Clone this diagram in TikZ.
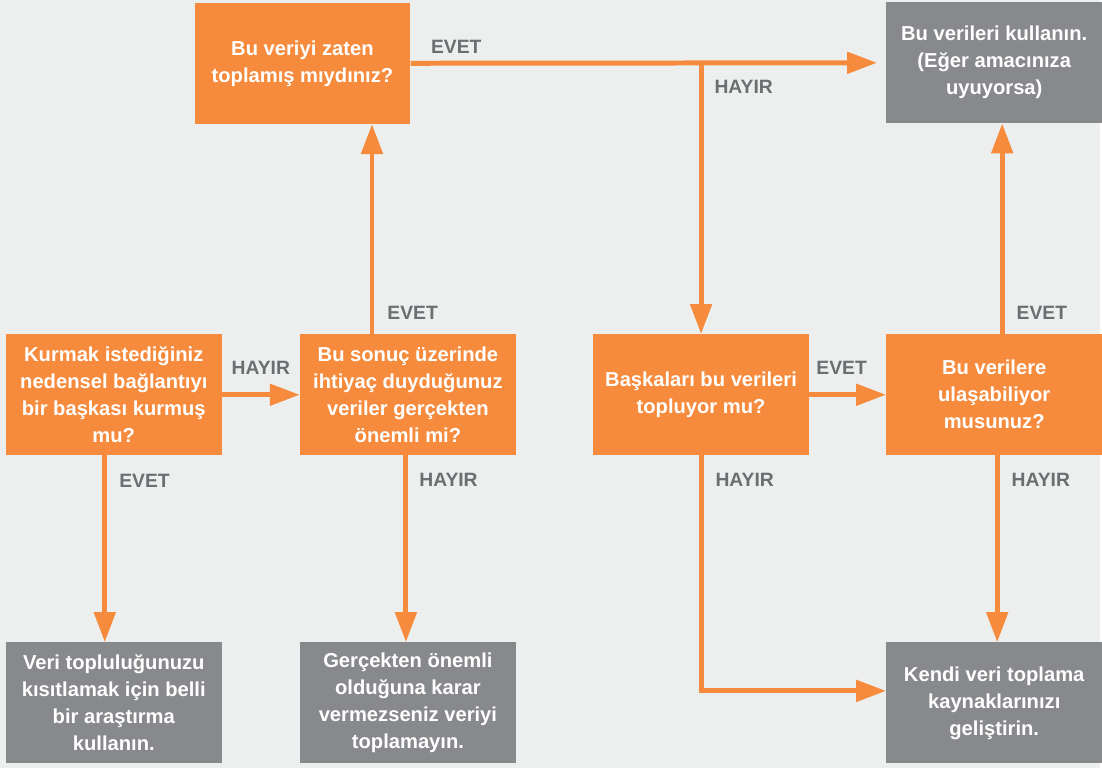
\documentclass[tikz,border=0pt]{standalone}
\usepackage{fontspec}
\setmainfont{Liberation Sans}
\usepackage{xcolor}
\usetikzlibrary{arrows.meta,positioning}
\definecolor{turuncu}{HTML}{F68B3D}
\definecolor{kutugri}{HTML}{88898D}
\definecolor{zemin}{HTML}{EDEFEE}
\definecolor{yazigri}{HTML}{6D6E72}

\begin{document}
\begin{tikzpicture}[
  node distance=3.74cm and 1.54cm,
  soru/.style={rectangle, fill=turuncu, text=white, minimum width=4.32cm,
               minimum height=2.42cm, inner sep=0pt, align=center,
               font=\bfseries\fontsize{11.5}{15.4}\selectfont},
  sonuc/.style={soru, fill=kutugri},
  etiket/.style={text=yazigri, inner sep=0pt, font=\bfseries\fontsize{11}{13}\selectfont},
  ok/.style={-{Triangle[length=0.6cm, width=0.42cm]}, line width=0.1cm, turuncu}
]
\fill[zemin] (0,0) rectangle (22.04,-15.38);
% sorular
\node[soru] (kurmak) at (2.28,-7.91) {Kurmak istediğiniz\\nedensel bağlantıyı\\bir başkası kurmuş\\mu?};
\node[soru, right=1.56cm of kurmak] (onemli) {Bu sonuç üzerinde\\ihtiyaç duyduğunuz\\veriler gerçekten\\önemli mi?};
\node[soru, right=of onemli] (baskalari) {Başkaları bu verileri\\topluyor mu?};
\node[soru, right=of baskalari] (ulasabilir) {Bu verilere\\ulaşabiliyor\\musunuz?};
\node[soru] (toplamis) at (6.06,-1.27) {Bu veriyi zaten\\toplamış mıydınız?};
% sonuclar
\node[sonuc, above=4.22cm of ulasabilir] (kullan) {Bu verileri kullanın.\\(Eğer amacınıza\\uyuyorsa)};
\node[sonuc, below=of kurmak] (arastirma) {Veri topluluğunuzu\\kısıtlamak için belli\\bir araştırma\\kullanın.};
\node[sonuc, below=of onemli] (toplamayin) {Gerçekten önemli\\olduğuna karar\\vermezseniz veriyi\\toplamayın.};
\node[sonuc, below=of ulasabilir] (gelistir) {Kendi veri toplama\\kaynaklarınızı\\geliştirin.};
% oklar
\draw[ok] (kurmak) -- node[etiket, midway, above=0.36cm] {HAYIR} (onemli);
\draw[ok] ([xshift=-0.18cm]kurmak.south) -- node[etiket, at start, below right=0.32cm and 0.24cm] {EVET}
  ([xshift=-0.18cm]kurmak.south |- arastirma.north);
\draw[ok] ([xshift=-0.72cm]onemli.north) -- node[etiket, at start, above right=0.24cm and 0.26cm] {EVET}
  ([xshift=-0.72cm]onemli.north |- toplamis.south);
\draw[ok] ([xshift=-0.04cm]onemli.south) -- node[etiket, at start, below right=0.3cm and 0.22cm] {HAYIR}
  ([xshift=-0.04cm]onemli.south |- toplamayin.north);
\draw[ok, shorten >=0.18cm] (toplamis) -- node[etiket, at start, above right=0.14cm and 0.36cm] {EVET} (kullan);
\coordinate (ayrim) at (toplamis.east -| baskalari.north);
\draw[ok] (ayrim) -- node[etiket, at start, below right=0.28cm and 0.22cm] {HAYIR} (baskalari.north);
\draw[ok] (baskalari) -- node[etiket, midway, above=0.36cm, xshift=-0.12cm] {EVET} (ulasabilir);
\draw[ok] (baskalari.south) |- node[etiket, at start, below right=0.3cm and 0.24cm] {HAYIR}
  ([yshift=0.24cm]gelistir.west);
\draw[ok] ([xshift=0.16cm]ulasabilir.north) -- node[etiket, at start, above right=0.24cm and 0.24cm] {EVET}
  ([xshift=0.16cm]ulasabilir.north |- kullan.south);
\draw[ok] ([xshift=0.06cm]ulasabilir.south) -- node[etiket, at start, below right=0.3cm and 0.24cm] {HAYIR}
  ([xshift=0.06cm]ulasabilir.south |- gelistir.north);
\end{tikzpicture}
\end{document}
